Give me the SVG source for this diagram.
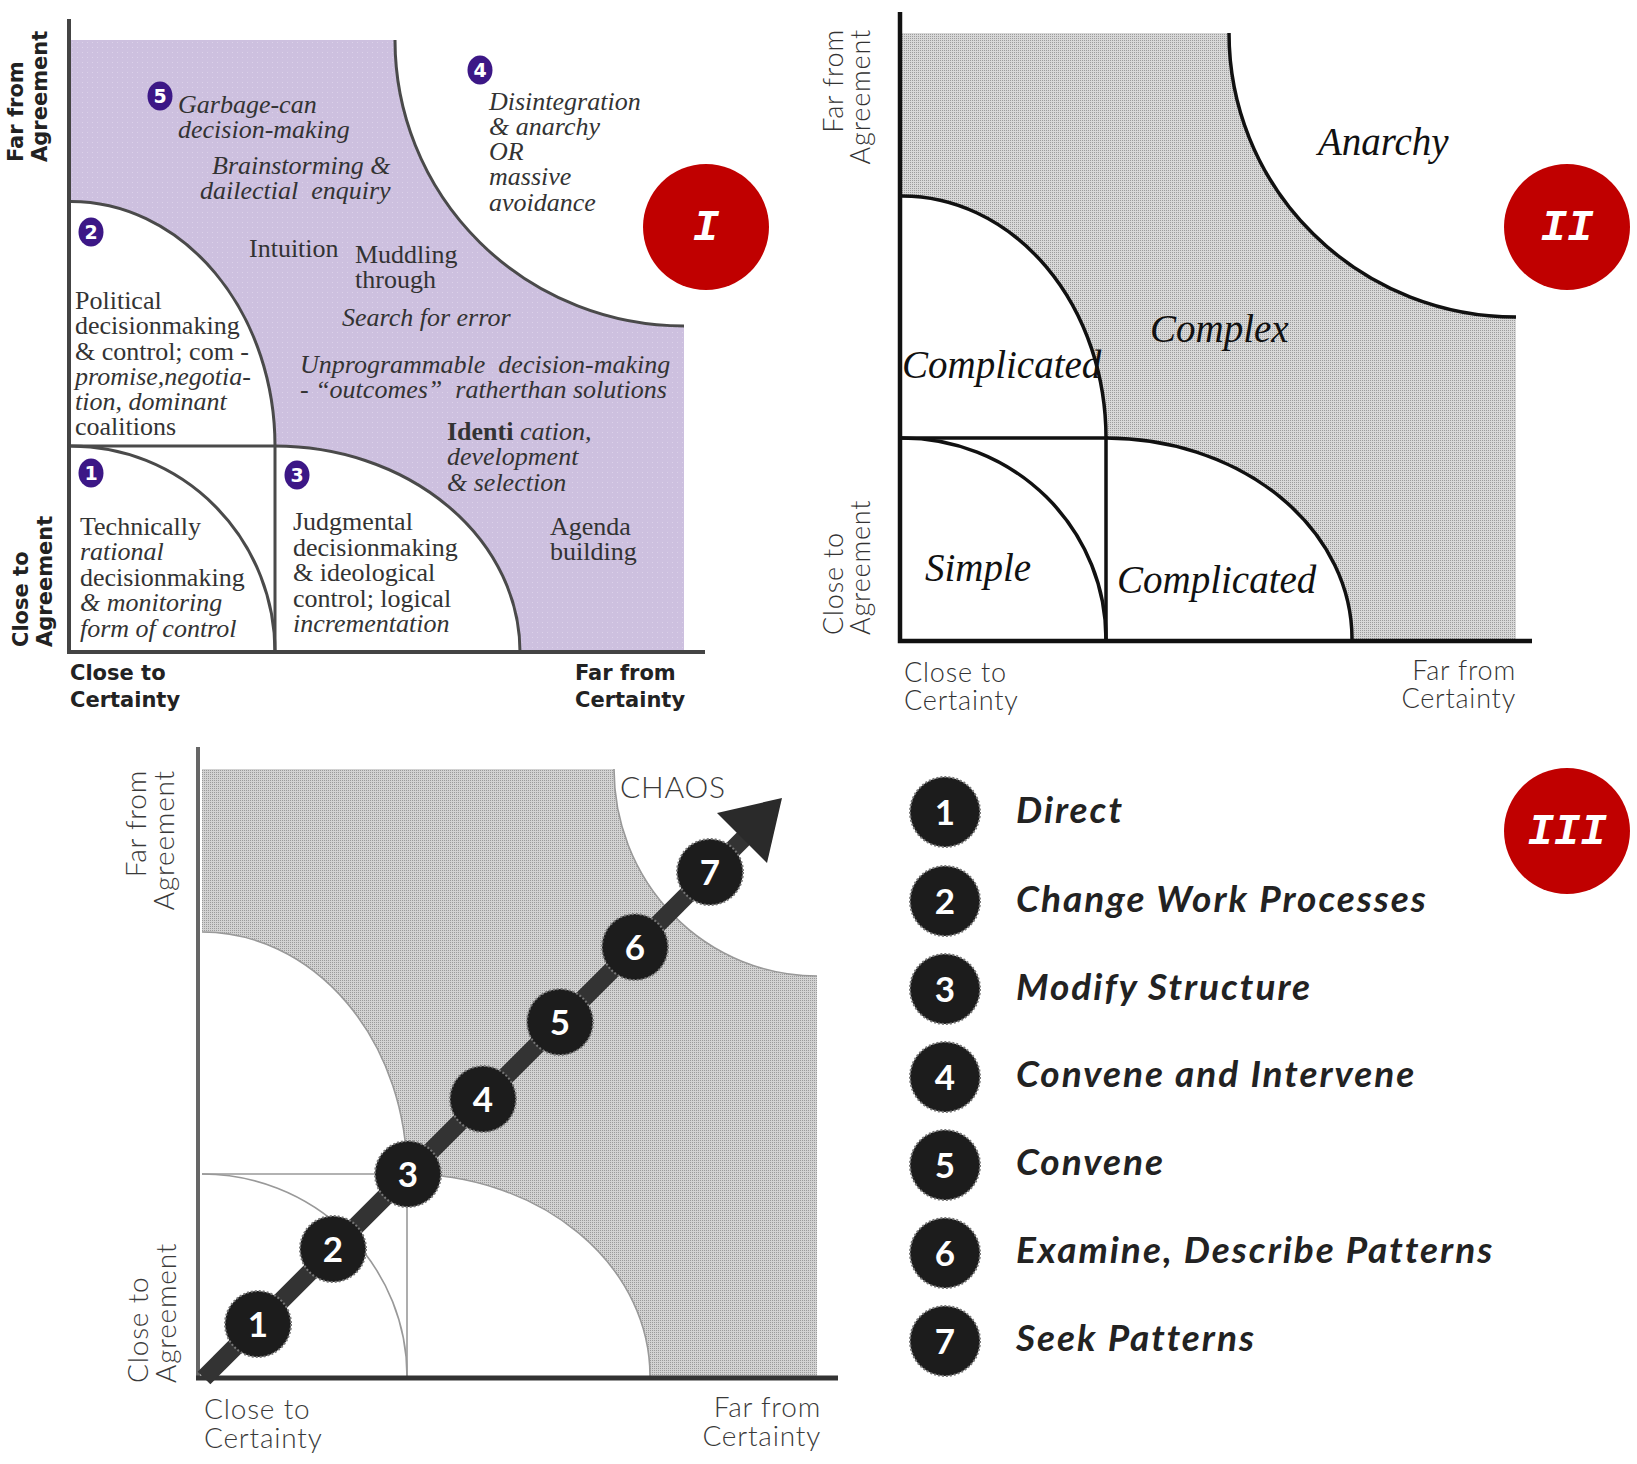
<svg xmlns="http://www.w3.org/2000/svg" width="1637" height="1464" viewBox="0 0 1637 1464">
<style>
.ser{font-family:"Liberation Serif",serif;font-size:26px;fill:#333}
.it{font-style:italic}
.ax1{font-family:"DejaVu Sans",sans-serif;font-weight:bold;font-size:21px;fill:#222}
.ax2{font-family:Lato,"Liberation Sans",sans-serif;font-weight:300;font-size:27px;letter-spacing:0.8px;fill:#333}
.ax3{font-family:Lato,"Liberation Sans",sans-serif;font-weight:300;font-size:28px;letter-spacing:0.8px;fill:#3a3a3a}
.big{font-family:"Liberation Serif",serif;font-style:italic;font-size:39px;fill:#111}
.badge{fill:#3c1786}
.bnum{font-family:"DejaVu Sans",sans-serif;font-weight:bold;font-size:19px;fill:#fff;text-anchor:middle}
.roman{font-family:"Liberation Mono",monospace;font-weight:bold;font-style:italic;font-size:44px;fill:#fff;text-anchor:middle}
.red{fill:#c00000}
.dot{fill:#1c1c1c;stroke:#777;stroke-width:2;stroke-dasharray:2 2}
.dnum{font-family:Lato,"Liberation Sans",sans-serif;font-weight:bold;font-size:35px;fill:#fff;text-anchor:middle}
.leg{font-family:Lato,"Liberation Sans",sans-serif;font-weight:bold;font-style:italic;font-size:37px;letter-spacing:2px;fill:#222}
.l1{fill:none;stroke:#4a4a4a;stroke-width:3}
.l2{fill:none;stroke:#111;stroke-width:3.5}
.l3{fill:none;stroke:#999;stroke-width:1.6}
</style>
<defs>
<pattern id="pdots" width="5" height="5" patternUnits="userSpaceOnUse"><rect width="5" height="5" fill="#cdc0df"/><rect x="2" y="2" width="1" height="1" fill="#dcd2e9"/></pattern>
<pattern id="gdots" width="2" height="2" patternUnits="userSpaceOnUse"><rect width="2" height="2" fill="#d8d8d8"/><rect width="1" height="1" fill="#9c9c9c"/></pattern>
<pattern id="gdots3" width="2" height="2" patternUnits="userSpaceOnUse"><rect width="2" height="2" fill="#d2d2d2"/><rect width="1" height="1" fill="#9a9a9a"/></pattern>
</defs>
<rect width="1637" height="1464" fill="#fff"/>

<g id="panel-1">
<path d="M71,40 L395,40 A289,286 0 0 0 684,326 L684,650 L71,650 Z" fill="url(#pdots)"/>
<path d="M71,446 L71,201.5 A204,244.5 0 0 1 275,446 Z" fill="#fff"/>
<rect x="71" y="446" width="204" height="205" fill="#fff"/>
<path d="M275,652 L275,446 A245,206 0 0 1 520,652 Z" fill="#fff"/>
<path class="l1" d="M395,40 A289,286 0 0 0 684,326"/>
<path class="l1" d="M71,201.5 A204,244.5 0 0 1 275,446"/>
<path class="l1" d="M71,446 A204,206 0 0 1 275,652"/>
<path class="l1" d="M275,446 A245,206 0 0 1 520,652"/>
<path class="l1" d="M69,446 L275,446 M275,446 L275,652"/>
<path d="M69,19 L69,652 L705,652" fill="none" stroke="#444" stroke-width="4"/>
<text class="ax1" transform="translate(23,162) rotate(-90)"><tspan x="0" y="0">Far from</tspan><tspan x="0" dy="24">Agreement</tspan></text>
<text class="ax1" transform="translate(28,647) rotate(-90)"><tspan x="0" y="0">Close to</tspan><tspan x="0" dy="24">Agreement</tspan></text>
<text class="ax1"><tspan x="70" y="680">Close to</tspan><tspan x="70" y="707">Certainty</tspan></text>
<text class="ax1"><tspan x="575" y="680">Far from</tspan><tspan x="575" y="707">Certainty</tspan></text>
<g id="badge-5"><ellipse class="badge" cx="160" cy="96" rx="12.5" ry="14.5"/><text class="bnum" x="160" y="103">5</text></g>
<g id="badge-4"><ellipse class="badge" cx="480" cy="70" rx="12.5" ry="14.5"/><text class="bnum" x="480" y="77">4</text></g>
<g id="badge-2"><ellipse class="badge" cx="91" cy="232" rx="12.5" ry="14.5"/><text class="bnum" x="91" y="239">2</text></g>
<g id="badge-1"><ellipse class="badge" cx="91" cy="473" rx="12.5" ry="14.5"/><text class="bnum" x="91" y="480">1</text></g>
<g id="badge-3"><ellipse class="badge" cx="297" cy="475" rx="12.5" ry="14.5"/><text class="bnum" x="297" y="482">3</text></g>
<text class="ser it"><tspan x="178" y="113">Garbage-can</tspan><tspan x="178" y="138">decision-making</tspan></text>
<text class="ser it" xml:space="preserve"><tspan x="212" y="174">Brainstorming &amp;</tspan><tspan x="200" y="199">dailectial  enquiry</tspan></text>
<text class="ser" x="249" y="257">Intuition</text>
<text class="ser"><tspan x="355" y="263">Muddling</tspan><tspan x="355" y="288">through</tspan></text>
<text class="ser it" x="342" y="326">Search for error</text>
<text class="ser it" xml:space="preserve"><tspan x="300" y="373">Unprogrammable  decision-making</tspan><tspan x="300" y="398">- “outcomes”  ratherthan solutions</tspan></text>
<text class="ser"><tspan x="447" y="440" font-weight="bold">Identi</tspan><tspan class="it"> cation,</tspan><tspan class="it" x="447" y="465">development</tspan><tspan class="it" x="447" y="491">&amp; selection</tspan></text>
<text class="ser"><tspan x="550" y="535">Agenda</tspan><tspan x="550" y="560">building</tspan></text>
<text class="ser it"><tspan x="489" y="110">Disintegration</tspan><tspan x="489" y="135">&amp; anarchy</tspan><tspan x="489" y="160">OR</tspan><tspan x="489" y="185">massive</tspan><tspan x="489" y="211">avoidance</tspan></text>
<text class="ser"><tspan x="75" y="309">Political</tspan><tspan x="75" y="334">decisionmaking</tspan><tspan x="75" y="360">&amp; control; com -</tspan><tspan class="it" x="75" y="385">promise,negotia-</tspan><tspan class="it" x="75" y="410">tion, dominant</tspan><tspan x="75" y="435">coalitions</tspan></text>
<text class="ser"><tspan x="80" y="535">Technically</tspan><tspan class="it" x="80" y="560">rational</tspan><tspan x="80" y="586">decisionmaking</tspan><tspan class="it" x="80" y="611">&amp; monitoring</tspan><tspan class="it" x="80" y="637">form of control</tspan></text>
<text class="ser"><tspan x="293" y="530">Judgmental</tspan><tspan x="293" y="556">decisionmaking</tspan><tspan x="293" y="581">&amp; ideological</tspan><tspan x="293" y="607">control; logical</tspan><tspan class="it" x="293" y="632">incrementation</tspan></text>
</g>

<g id="label-I"><circle class="red" cx="706" cy="227" r="63"/><text class="roman" x="706" y="240">I</text></g>
<g id="label-II"><circle class="red" cx="1567" cy="227" r="63"/><text class="roman" x="1567" y="240">II</text></g>
<g id="label-III"><circle class="red" cx="1567" cy="831" r="63"/><text class="roman" x="1567" y="844">III</text></g>

<g id="panel-2">
<path d="M902,33 L1229,33 A287,284 0 0 0 1516,317 L1516,639 L902,639 Z" fill="url(#gdots)"/>
<path d="M902,438 L902,196 A204,242 0 0 1 1106,438 Z" fill="#fff"/>
<rect x="902" y="438" width="204" height="202" fill="#fff"/>
<path d="M1106,639 L1106,438 A246,201 0 0 1 1352,639 Z" fill="#fff"/>
<path class="l2" d="M1229,33 A287,284 0 0 0 1516,317"/>
<path class="l2" d="M902,196 A204,242 0 0 1 1106,438"/>
<path class="l2" d="M902,438 A204,201 0 0 1 1106,639"/>
<path class="l2" d="M1106,438 A246,201 0 0 1 1352,639"/>
<path class="l2" d="M900,438 L1106,438 L1106,641"/>
<path d="M900,12 L900,641 L1532,641" fill="none" stroke="#111" stroke-width="4.5"/>
<text class="big" x="1318" y="155">Anarchy</text>
<text class="big" x="1150" y="342">Complex</text>
<text class="big" x="902" y="378">Complicated</text>
<text class="big" x="925" y="581">Simple</text>
<text class="big" x="1117" y="593">Complicated</text>
<text class="ax2" text-anchor="end" transform="translate(843,29) rotate(-90)"><tspan x="0" y="0">Far from</tspan><tspan x="0" dy="27">Agreement</tspan></text>
<text class="ax2" transform="translate(843,635) rotate(-90)"><tspan x="0" y="0">Close to</tspan><tspan x="0" dy="27">Agreement</tspan></text>
<text class="ax2"><tspan x="904" y="682">Close to</tspan><tspan x="904" y="710">Certainty</tspan></text>
<text class="ax2" text-anchor="end"><tspan x="1516" y="680">Far from</tspan><tspan x="1516" y="708">Certainty</tspan></text>
</g>

<g id="panel-3">
<path d="M202,769 L614,769 A203,207 0 0 0 817,976 L817,1376 L202,1376 Z" fill="url(#gdots3)"/>
<path d="M202,1174 L202,932 A205,242 0 0 1 407,1174 Z" fill="#fff"/>
<rect x="202" y="1174" width="205" height="203" fill="#fff"/>
<path d="M407,1376 L407,1174 A243,202 0 0 1 650,1376 Z" fill="#fff"/>
<path class="l3" d="M614,769 A203,207 0 0 0 817,976"/>
<path class="l3" d="M202,932 A205,242 0 0 1 407,1174"/>
<path class="l3" d="M202,1174 A205,202 0 0 1 407,1376"/>
<path class="l3" d="M407,1174 A243,202 0 0 1 650,1376"/>
<path class="l3" d="M202,1174 L407,1174 L407,1376"/>
<path d="M198,747 L198,1378" fill="none" stroke="#666" stroke-width="4"/>
<path d="M196,1378 L838,1378" fill="none" stroke="#333" stroke-width="5"/>
<text class="ax3" x="620" y="798" style="font-size:30px">CHAOS</text>
<text class="ax3" text-anchor="end" transform="translate(146,770) rotate(-90)"><tspan x="0" y="0">Far from</tspan><tspan x="0" dy="28">Agreement</tspan></text>
<text class="ax3" transform="translate(148,1383) rotate(-90)"><tspan x="0" y="0">Close to</tspan><tspan x="0" dy="28">Agreement</tspan></text>
<text class="ax3"><tspan x="204" y="1419">Close to</tspan><tspan x="204" y="1448">Certainty</tspan></text>
<text class="ax3" text-anchor="end"><tspan x="821" y="1417">Far from</tspan><tspan x="821" y="1446">Certainty</tspan></text>
</g>

<g id="connectors">
<path d="M204,1378 L745,837" fill="none" stroke="#333" stroke-width="18"/>
<path d="M782,798 L717,813 L767,863 Z" fill="#2a2a2a"/>
</g>

<g id="steps">
<g id="step-1"><circle class="dot" cx="258" cy="1324" r="33"/><text class="dnum" x="258" y="1337">1</text></g>
<g id="step-2"><circle class="dot" cx="333" cy="1249" r="33"/><text class="dnum" x="333" y="1262">2</text></g>
<g id="step-3"><circle class="dot" cx="408" cy="1174" r="33"/><text class="dnum" x="408" y="1187">3</text></g>
<g id="step-4"><circle class="dot" cx="483" cy="1099" r="33"/><text class="dnum" x="483" y="1112">4</text></g>
<g id="step-5"><circle class="dot" cx="560" cy="1022" r="33"/><text class="dnum" x="560" y="1035">5</text></g>
<g id="step-6"><circle class="dot" cx="635" cy="947" r="33"/><text class="dnum" x="635" y="960">6</text></g>
<g id="step-7"><circle class="dot" cx="710" cy="872" r="33"/><text class="dnum" x="710" y="885">7</text></g>
</g>

<g id="legend">
<g id="legend-1"><circle class="dot" cx="945" cy="812" r="35"/><text class="dnum" x="945" y="825">1</text><text class="leg" x="1016" y="823">Direct</text></g>
<g id="legend-2"><circle class="dot" cx="945" cy="901" r="35"/><text class="dnum" x="945" y="914">2</text><text class="leg" x="1016" y="912">Change Work Processes</text></g>
<g id="legend-3"><circle class="dot" cx="945" cy="989" r="35"/><text class="dnum" x="945" y="1002">3</text><text class="leg" x="1016" y="1000">Modify Structure</text></g>
<g id="legend-4"><circle class="dot" cx="945" cy="1077" r="35"/><text class="dnum" x="945" y="1090">4</text><text class="leg" x="1016" y="1087">Convene and Intervene</text></g>
<g id="legend-5"><circle class="dot" cx="945" cy="1165" r="35"/><text class="dnum" x="945" y="1178">5</text><text class="leg" x="1016" y="1175">Convene</text></g>
<g id="legend-6"><circle class="dot" cx="945" cy="1253" r="35"/><text class="dnum" x="945" y="1266">6</text><text class="leg" x="1016" y="1263">Examine, Describe Patterns</text></g>
<g id="legend-7"><circle class="dot" cx="945" cy="1341" r="35"/><text class="dnum" x="945" y="1354">7</text><text class="leg" x="1016" y="1351">Seek Patterns</text></g>
</g>
</svg>
